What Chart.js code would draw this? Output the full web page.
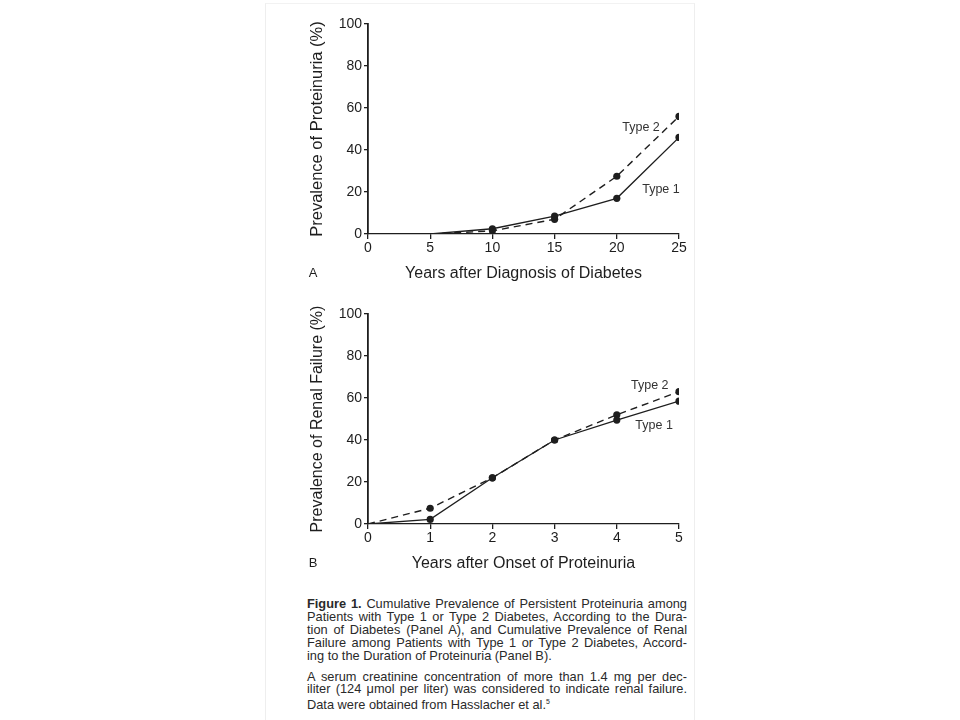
<!DOCTYPE html>
<html>
<head>
<meta charset="utf-8">
<script src="https://cdn.jsdelivr.net/npm/chart.js@4.4.0/dist/chart.umd.min.js"></script>
<style>
  html, body { margin: 0; padding: 0; background: #fff; }
  body { width: 960px; height: 720px; position: relative; overflow: hidden; font-family: "Liberation Sans", Arial, sans-serif; }
  .paper { position: absolute; left: 265px; top: 3px; width: 428px; height: 717px; border-left: 1px solid #eee; border-right: 1px solid #eee; border-top: 1px solid #f2f2f2; }
  .wrap { position: absolute; }
  #wrapA { left: 290px; top: 10px; width: 410px; height: 280px; }
  #wrapB { left: 290px; top: 300px; width: 410px; height: 280px; }
  .caption { position: absolute; left: 307px; top: 598px; width: 380px; font-size: 12.8px; line-height: 12.9px; color: #2a2a2a; }
  .caption div { text-align: justify; text-align-last: justify; white-space: nowrap; }
  .caption div.last { text-align-last: left; }
  .caption .gap { height: 8px; }
</style>
</head>
<body>
<div class="paper"></div>
<div class="wrap" id="wrapA"><canvas id="chartA" width="410" height="280"></canvas></div>
<div class="wrap" id="wrapB"><canvas id="chartB" width="410" height="280"></canvas></div>
<div class="caption">
  <div><b>Figure 1.</b> Cumulative Prevalence of Persistent Proteinuria among</div>
  <div>Patients with Type 1 or Type 2 Diabetes, According to the Dura-</div>
  <div>tion of Diabetes (Panel A), and Cumulative Prevalence of Renal</div>
  <div>Failure among Patients with Type 1 or Type 2 Diabetes, Accord-</div>
  <div class="last">ing to the Duration of Proteinuria (Panel B).</div>
  <div class="gap"></div>
  <div>A serum creatinine concentration of more than 1.4 mg per dec-</div>
  <div>iliter (124 &mu;mol per liter) was considered to indicate renal failure.</div>
  <div class="last">Data were obtained from Hasslacher et al.<sup style="font-size:7px">5</sup></div>
</div>
<script>
// Panel A: years after diagnosis of diabetes
const yearsA = [5, 10, 15, 20, 25];
const type1A = [0, 2.5, 8.5, 17, 46];
const type2A = [0, 1.5, 7, 27.5, 56];

// Panel B: years after onset of proteinuria
const yearsB = [0, 1, 2, 3, 4, 5];
const type1B = [0, 2.2, 22, 40, 49.5, 58.5];
const type2B = [0, 7.5, 22, 40, 52, 63];

const yTicks = [0, 20, 40, 60, 80, 100];
const ink = '#1e1e1e';
const fontFam = '"Liberation Sans", Arial, sans-serif';

const pts = (xs, ys) => xs.map((x, i) => ({ x: x, y: ys[i] }));

// type labels + panel letter, placed in data space
const notes = {
  id: 'notes',
  afterDraw(chart, args, opts) {
    const { ctx, scales: { x, y } } = chart;
    ctx.save();
    ctx.fillStyle = '#333';
    ctx.font = '12.5px ' + fontFam;
    ctx.textAlign = 'center';
    ctx.textBaseline = 'middle';
    opts.labels.forEach(l => ctx.fillText(l.text, x.getPixelForValue(l.x), y.getPixelForValue(l.y)));
    ctx.font = '13px ' + fontFam;
    ctx.fillStyle = ink;
    ctx.fillText(opts.letter, 23, opts.letterY);
    ctx.restore();
  }
};

function makeChart(id, xs, t1, t2, xMax, xStep, xTitle, yTitle, yTitleSize, labels, letter) {
  return new Chart(document.getElementById(id), {
    type: 'line',
    data: {
      datasets: [
        {
          label: 'Type 1',
          data: pts(xs, t1),
          borderColor: ink,
          backgroundColor: ink,
          borderWidth: 1.3,
          pointRadius: xs.map((v, i) => i === 0 ? 0 : 3.6),
          pointBorderWidth: 0,
          tension: 0
        },
        {
          label: 'Type 2',
          data: pts(xs, t2),
          borderColor: ink,
          backgroundColor: ink,
          borderWidth: 1.4,
          borderDash: [7, 5],
          pointRadius: xs.map((v, i) => i === 0 ? 0 : 3.6),
          pointBorderWidth: 0,
          tension: 0
        }
      ]
    },
    options: {
      responsive: false,
      animation: false,
      events: [],
      layout: { padding: { top: 14, right: 21, left: 18, bottom: 0 } },
      plugins: {
        legend: { display: false },
        tooltip: { enabled: false },
        notes: { labels: labels, letter: letter, letterY: 263 }
      },
      scales: {
        x: {
          type: 'linear',
          min: 0,
          max: xMax,
          afterFit: s => { s.height = 56; },
          ticks: { stepSize: xStep, color: ink, font: { size: 14, family: fontFam }, padding: 1, maxRotation: 0 },
          grid: { drawOnChartArea: false, drawTicks: true, tickLength: 5, color: ink, lineWidth: 1.3 },
          border: { display: true, color: ink, width: 1.3 },
          title: { display: true, text: xTitle, color: ink, font: { size: 16, family: fontFam }, padding: { top: 0, bottom: 7 } }
        },
        y: {
          type: 'linear',
          min: 0,
          max: 100,
          afterFit: s => { s.width = 60; },
          afterBuildTicks: s => { s.ticks = yTicks.map(v => ({ value: v })); },
          ticks: { color: ink, font: { size: 14, family: fontFam }, padding: 2 },
          grid: { drawOnChartArea: false, drawTicks: true, tickLength: 4, color: ink, lineWidth: 1.3 },
          border: { display: true, color: ink, width: 1.8 },
          title: { display: true, text: yTitle, color: ink, font: { size: yTitleSize, family: fontFam }, padding: { top: 0, bottom: 0 } }
        }
      }
    },
    plugins: [notes]
  });
}

makeChart('chartA', yearsA, type1A, type2A, 25, 5,
  'Years after Diagnosis of Diabetes', 'Prevalence of Proteinuria (%)', 16.5,
  [{ text: 'Type 2', x: 21.95, y: 50.5 }, { text: 'Type 1', x: 23.55, y: 21 }], 'A');

makeChart('chartB', yearsB, type1B, type2B, 5, 1,
  'Years after Onset of Proteinuria', 'Prevalence of Renal Failure (%)', 16,
  [{ text: 'Type 2', x: 4.53, y: 66 }, { text: 'Type 1', x: 4.6, y: 47 }], 'B');
</script>
</body>
</html>
